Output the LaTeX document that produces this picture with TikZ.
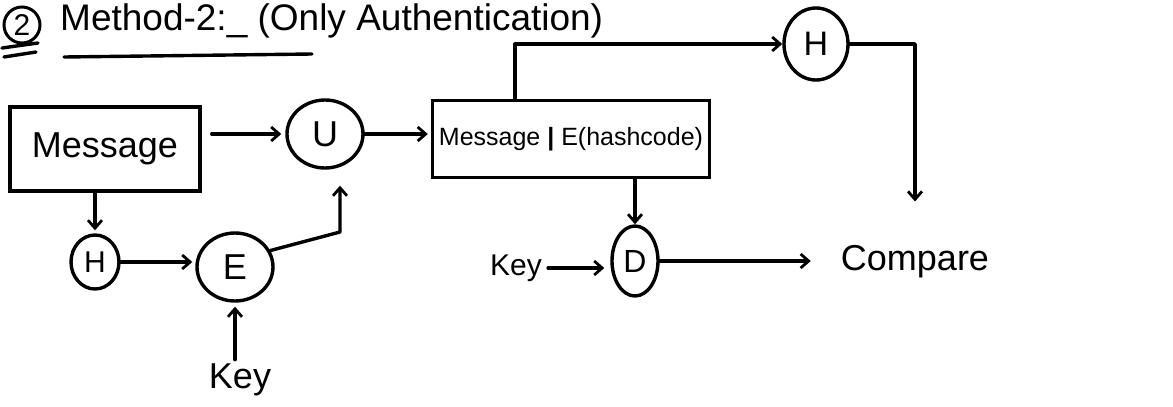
\documentclass[tikz,border=0pt]{standalone}
\usepackage{fontspec}
\setmainfont{Liberation Sans}
\usetikzlibrary{shapes.geometric,arrows.meta,calc}
\begin{document}
\begin{tikzpicture}[x=1pt,y=-1pt,
  ln/.style={line width=3.4pt,line cap=round,line join=round},
  arr/.style={ln,-{Straight Barb[length=8pt,width=14pt,line width=2.8pt]}},
  boxnode/.style={draw,line width=3.4pt,rectangle,inner sep=0pt},
  op/.style={draw,line width=3.4pt,ellipse,inner sep=0pt},
  lbl/.style={inner sep=2pt}]
\useasboundingbox (0,0) rectangle (1173,407);
% title
\node[circle,draw,line width=3pt,inner sep=1pt,minimum size=36pt,font=\fontsize{30}{30}\selectfont] (num) at (22,25) {2};
\draw[ln] (2,48) -- (38,43);
\draw[ln] (4,57) -- (36,52);
\node[anchor=west,inner sep=0pt,font=\fontsize{37}{37}\selectfont] (title) at (60,21) {Method-2:\_ (Only Authentication)};
\draw[ln] (64,57) -- (312,54);
% nodes
\node[boxnode,minimum width=190pt,minimum height=84pt,font=\fontsize{36}{36}\selectfont] (msg) at (105,149) {Message};
\node[op,minimum width=76pt,minimum height=68pt,font=\fontsize{36}{36}\selectfont] (U) at (325,134) {U};
\node[boxnode,minimum width=277pt,minimum height=77pt,font=\fontsize{25}{25}\selectfont] (box2) at (571,139) {Message \textbf{|} E(hashcode)};
\node[op,minimum width=64pt,minimum height=72pt,font=\fontsize{34}{34}\selectfont] (Ht) at (816,44) {H};
\node[lbl,font=\fontsize{36}{36}\selectfont] (cmp) at (915,262) {Compare};
\node[op,minimum width=48pt,minimum height=54pt,font=\fontsize{30}{30}\selectfont] (Hl) at (95,262) {H};
\node[op,minimum width=76pt,minimum height=68pt,font=\fontsize{36}{36}\selectfont] (E) at (235,267) {E};
\node[lbl,font=\fontsize{36}{36}\selectfont] (keyE) at (240,380) {Key};
\node[op,minimum width=46pt,minimum height=70pt,font=\fontsize{32}{32}\selectfont] (D) at (635,261) {D};
\node[lbl,font=\fontsize{30}{30}\selectfont] (keyD) at (516,268) {Key};
\coordinate (bend) at (340,232);
\coordinate (up) at ($(box2.north west)+(84,0)$);
% connectors
\draw[arr,shorten <=10pt,shorten >=4pt] (msg.east |- U.west) -- (U.west);
\draw[arr,shorten >=3pt] (U.east) -- (U.east -| box2.west);
\draw[arr] (up) |- (Ht.west);
\draw[arr,shorten >=42pt] (Ht.east) -| (cmp.north);
\draw[arr,shorten >=3pt] (msg.south -| Hl) -- (Hl.north);
\draw[arr,shorten >=3pt] (Hl.east) -- (Hl.east -| E.west);
\draw[arr,shorten >=16pt] (E.25) -- (bend) -- (bend |- U.south);
\draw[arr,shorten <=2pt,shorten >=4pt] (E.south |- keyE.north) -- (E.south);
\draw[arr] (box2.south -| D) -- (D.north);
\draw[arr,shorten <=4pt,shorten >=6pt] (keyD.east) -- (keyD.east -| D.west);
\draw[arr,shorten >=28pt] (D.east) -- (D.east -| cmp.west);
\end{tikzpicture}
\end{document}
